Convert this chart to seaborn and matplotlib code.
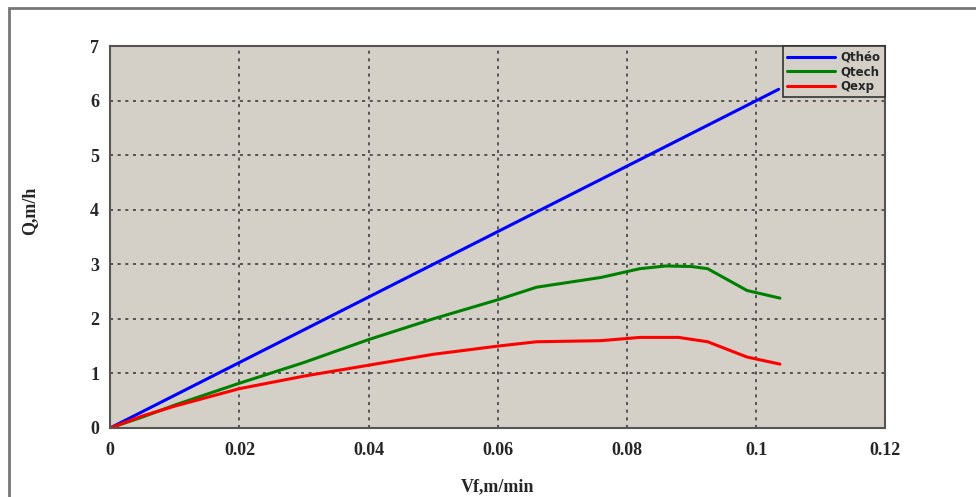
import numpy as np
import pandas as pd
import matplotlib
matplotlib.use("Agg")
import matplotlib.pyplot as plt
from matplotlib.patches import Rectangle
import seaborn as sns

# =====================
# DATA
# =====================
vf_theo = [0.0, 0.02, 0.04, 0.06, 0.08, 0.1, 0.1035]
q_theo = [0.0, 1.2, 2.4, 3.6, 4.8, 6.0, 6.21]

vf_tech = [0.0, 0.005, 0.01, 0.02, 0.03, 0.04, 0.05, 0.06, 0.066, 0.076,
           0.082, 0.086, 0.09, 0.0925, 0.0986, 0.1037]
q_tech = [0.0, 0.2, 0.42, 0.82, 1.2, 1.62, 2.0, 2.35, 2.58, 2.76,
          2.92, 2.97, 2.96, 2.92, 2.52, 2.38]

vf_exp = [0.0, 0.005, 0.01, 0.02, 0.03, 0.04, 0.05, 0.06, 0.066, 0.076,
          0.082, 0.088, 0.0925, 0.0986, 0.1037]
q_exp = [0.0, 0.22, 0.4, 0.72, 0.95, 1.15, 1.35, 1.5, 1.58, 1.6,
         1.66, 1.66, 1.58, 1.3, 1.17]

labels = ["Qthéo", "Qtech", "Qexp"]
colors = ["#0000ff", "#008000", "#ff0000"]

x_ticks = [0, 0.02, 0.04, 0.06, 0.08, 0.1, 0.12]
x_ticklabels = ["0", "0.02", "0.04", "0.06", "0.08", "0.1", "0.12"]
y_ticks = [0, 1, 2, 3, 4, 5, 6, 7]

df = pd.concat([
    pd.DataFrame({"Vf": vf_theo, "Q": q_theo, "serie": labels[0]}),
    pd.DataFrame({"Vf": vf_tech, "Q": q_tech, "serie": labels[1]}),
    pd.DataFrame({"Vf": vf_exp, "Q": q_exp, "serie": labels[2]}),
], ignore_index=True)

# =====================
# PLOT
# =====================
sns.set_style("white")
plt.rcParams["font.family"] = ["Liberation Serif", "DejaVu Serif"]

fig = plt.figure(figsize=(9.76, 4.97), dpi=100)
ax = fig.add_axes([0.113, 0.139, 0.794, 0.768])
ax.set_facecolor("#d4d0c8")

sns.lineplot(data=df, x="Vf", y="Q", hue="serie", palette=dict(zip(labels, colors)),
             estimator=None, sort=False, linewidth=2.2, ax=ax)

ax.set_xlim(0, 0.12)
ax.set_ylim(0, 7)
ax.set_xticks(x_ticks)
ax.set_xticklabels(x_ticklabels, fontsize=13, fontweight="bold")
ax.set_yticks(y_ticks)
ax.set_yticklabels([str(v) for v in y_ticks], fontsize=13, fontweight="bold")
ax.tick_params(axis="both", direction="in", length=5, width=1.5, color="#555555")
ax.tick_params(axis="x", pad=10)
ax.tick_params(axis="y", pad=8)

ax.grid(True, color="#333333", linestyle=(0, (2, 3)), linewidth=1.1)
for s in ax.spines.values():
    s.set_color("#555555")
    s.set_linewidth(1.5)

ax.set_xlabel("Vf,m/min", fontsize=13, fontweight="bold", labelpad=14)
ax.set_ylabel("Q,m/h", fontsize=13, fontweight="bold")
ax.yaxis.set_label_coords(-0.093, 0.57)

leg = ax.legend(loc="upper right", frameon=True, fancybox=False,
                borderaxespad=0, handlelength=4, handletextpad=0.5,
                labelspacing=0.12, borderpad=0.4,
                prop={"family": "DejaVu Sans", "weight": "bold", "size": 8.5})
leg.get_frame().set_facecolor("#d4d0c8")
leg.get_frame().set_edgecolor("#333333")
leg.get_frame().set_linewidth(1.2)
leg.get_frame().set_alpha(1)

# outer frame of the picture (top and left edges visible)
fig.patches.append(Rectangle((0.009, -0.1), 1.2, 1.084, transform=fig.transFigure,
                             fill=False, edgecolor="#777777", linewidth=2))

fig.savefig("out.png", dpi=100)
